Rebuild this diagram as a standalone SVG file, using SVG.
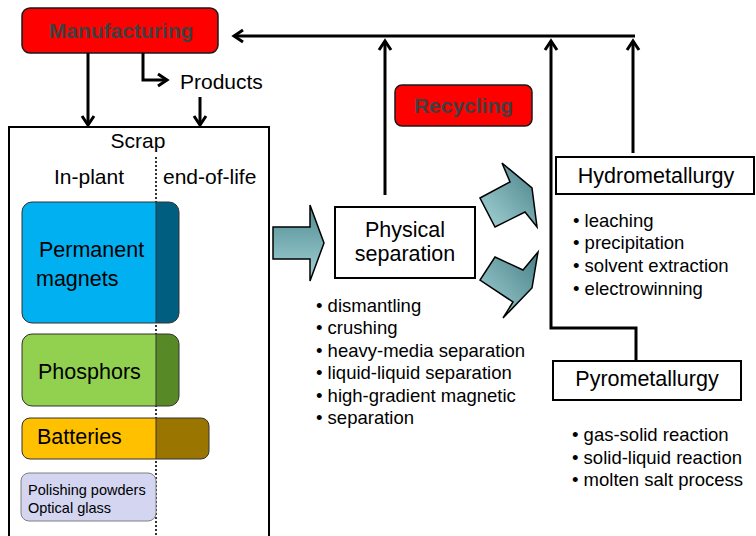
<svg xmlns="http://www.w3.org/2000/svg" width="756" height="536" viewBox="0 0 756 536">
<defs>
<style>
text{font-family:"Liberation Sans",Arial,sans-serif;fill:#000}
.hdr{font-size:21px}
.lbl{font-size:21.5px}
.bul{font-size:18.5px}
.big{font-size:21px;font-weight:bold;fill:#404040}
.conn{fill:none;stroke:#000;stroke-width:3}
.box{fill:#fff;stroke:#000;stroke-width:2}
.red{fill:#ff0000;stroke:#1a1a1a;stroke-width:1.5}
.blk{stroke:#000;stroke-width:1.5}
.cb{fill:none;stroke:#333;stroke-width:1}
</style>
<marker id="ah" markerUnits="userSpaceOnUse" markerWidth="20" markerHeight="20" viewBox="-12 -10 14 20" refX="0" refY="0" orient="auto">
<path d="M-9,-6 L0,0 L-9,6" fill="none" stroke="#000" stroke-width="3"/>
</marker>
<linearGradient id="gv" x1="0" y1="0" x2="0" y2="1">
<stop offset="0" stop-color="#4d8a91"/>
<stop offset="1" stop-color="#a5d4d7"/>
</linearGradient>
<linearGradient id="gd" x1="1" y1="0" x2="0" y2="1">
<stop offset="0" stop-color="#467f86"/>
<stop offset="1" stop-color="#a5d4d7"/>
</linearGradient>
</defs>
<rect width="756" height="536" fill="#fff"/>

<g id="scrap">
<rect class="box" x="9" y="127" width="260" height="420"/>
<line x1="156" y1="157" x2="156" y2="536" stroke="#000" stroke-width="1.6" stroke-dasharray="2,2"/>
<text class="hdr" x="138" y="148" text-anchor="middle">Scrap</text>
<text class="hdr" x="54" y="184">In-plant</text>
<text class="hdr" x="163" y="184">end-of-life</text>
</g>

<g id="magnets">
<rect x="22" y="202" width="157" height="121" rx="10" fill="#005f80"/>
<path d="M156,202 H32 A10,10 0 0 0 22,212 V313 A10,10 0 0 0 32,323 H156 Z" fill="#00b0f0"/>
<line x1="156" y1="202" x2="156" y2="323" stroke="#333" stroke-width="1"/>
<rect class="cb" x="22" y="202" width="157" height="121" rx="10"/>
<text class="lbl" x="39" y="257">Permanent</text>
<text class="lbl" x="36" y="286">magnets</text>
</g>

<g id="phosphors">
<rect x="22" y="334" width="157" height="72" rx="10" fill="#578a27"/>
<path d="M156,334 H32 A10,10 0 0 0 22,344 V396 A10,10 0 0 0 32,406 H156 Z" fill="#92d050"/>
<line x1="156" y1="334" x2="156" y2="406" stroke="#333" stroke-width="1"/>
<rect class="cb" x="22" y="334" width="157" height="72" rx="10"/>
<text class="lbl" x="38" y="379">Phosphors</text>
</g>

<g id="batteries">
<rect x="22" y="418" width="187" height="41" rx="8" fill="#9a7600"/>
<path d="M156,418 H30 A8,8 0 0 0 22,426 V451 A8,8 0 0 0 30,459 H156 Z" fill="#ffc000"/>
<line x1="156" y1="418" x2="156" y2="459" stroke="#333" stroke-width="1"/>
<rect class="cb" x="22" y="418" width="187" height="41" rx="8"/>
<text class="lbl" x="37" y="444">Batteries</text>
</g>

<g id="polishing">
<rect x="21" y="473" width="135" height="48" rx="8" fill="#d3d5f1" stroke="#808080" stroke-width="1"/>
<text x="28" y="495" style="font-size:14.5px">Polishing powders</text>
<text x="28" y="513" style="font-size:14.5px">Optical glass</text>
</g>

<g id="manufacturing">
<rect class="red" x="22" y="8" width="196" height="45" rx="8"/>
<text class="big" x="121" y="38" text-anchor="middle">Manufacturing</text>
</g>

<g id="products">
<text class="hdr" x="180" y="89">Products</text>
</g>

<g id="recycling">
<rect class="red" x="395" y="85" width="137" height="41" rx="7"/>
<text class="big" x="463.5" y="113" text-anchor="middle">Recycling</text>
</g>

<g id="physical">
<rect class="box" x="335" y="207" width="140" height="71"/>
<text class="lbl" x="405" y="237" text-anchor="middle">Physical</text>
<text class="lbl" x="405" y="261" text-anchor="middle">separation</text>
<text class="bul" x="316" y="312">• dismantling</text>
<text class="bul" x="316" y="334">• crushing</text>
<text class="bul" x="316" y="357">• heavy-media separation</text>
<text class="bul" x="316" y="379">• liquid-liquid separation</text>
<text class="bul" x="316" y="402">• high-gradient magnetic</text>
<text class="bul" x="316" y="424">• separation</text>
</g>

<g id="hydrometallurgy">
<rect class="box" x="556" y="157" width="198" height="37"/>
<text class="lbl" x="656" y="183" text-anchor="middle">Hydrometallurgy</text>
<text class="bul" x="573" y="227">• leaching</text>
<text class="bul" x="573" y="249">• precipitation</text>
<text class="bul" x="573" y="272">• solvent extraction</text>
<text class="bul" x="573" y="295">• electrowinning</text>
</g>

<g id="pyrometallurgy">
<rect class="box" x="553" y="361" width="188" height="39"/>
<text class="lbl" x="647" y="386" text-anchor="middle">Pyrometallurgy</text>
<text class="bul" x="572" y="441">• gas-solid reaction</text>
<text class="bul" x="572" y="464">• solid-liquid reaction</text>
<text class="bul" x="572" y="486">• molten salt process</text>
</g>

<g id="block-arrows">
<path class="blk" fill="url(#gv)" d="M273,227 H310 V205 L324,243 L310,281 V259 H273 Z"/>
<path class="blk" fill="url(#gd)" d="M480,198 L510,182 L502,163 L532,188 L537,227 L525,212 L495,227 Z"/>
<path class="blk" fill="url(#gd)" d="M495,257 L523,270 L538,252 L532,288 L503,318 L513,302 L480,280 Z"/>
</g>

<g id="connectors">
<path class="conn" d="M88,53 V125" marker-end="url(#ah)"/>
<path class="conn" d="M143,53 V80 H167" marker-end="url(#ah)"/>
<path class="conn" d="M200,97 V125" marker-end="url(#ah)"/>
<path class="conn" d="M635,36 H234" marker-end="url(#ah)"/>
<path class="conn" d="M385,195 V41" marker-end="url(#ah)"/>
<path class="conn" d="M636,361 V328 H551 V41" marker-end="url(#ah)"/>
<path class="conn" d="M633,153 V41" marker-end="url(#ah)"/>
</g>
</svg>
